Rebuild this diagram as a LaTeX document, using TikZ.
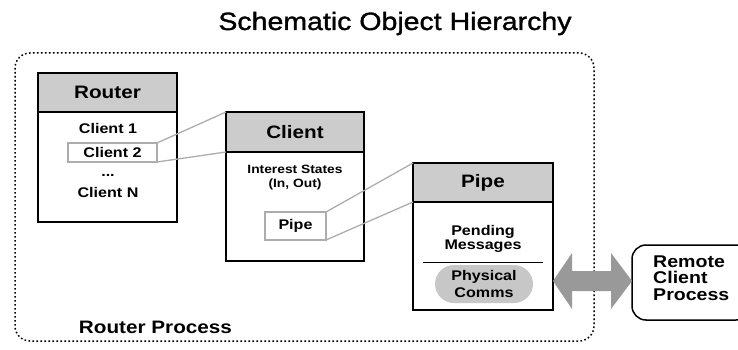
\documentclass[tikz,border=0pt]{standalone}
\usepackage{fontspec}
\setmainfont{Liberation Sans}[FakeStretch=1.15]
\newfontfamily\titlefont{Liberation Sans}[FakeStretch=1.14, FakeBold=1.3]
\definecolor{hdr}{gray}{0.80}
\definecolor{lnk}{gray}{0.68}
\definecolor{pill}{gray}{0.78}
\definecolor{arr}{gray}{0.60}
\begin{document}
\begin{tikzpicture}[x=1pt,y=-1pt,
  box/.style={draw=black, line width=1.8pt, inner sep=0pt, outer sep=0pt},
  hdrbox/.style={box, fill=hdr, font=\bfseries\fontsize{18}{18}\selectfont},
  bodybox/.style={box, fill=white},
  txt/.style={font=\bfseries\fontsize{14}{14}\selectfont, inner sep=0pt, align=center},
  link/.style={draw=lnk, line width=1.3pt},
  subbox/.style={draw=lnk, line width=1.5pt, fill=white, inner sep=0pt, outer sep=0pt,
                 font=\bfseries\fontsize{14}{14}\selectfont}]
\useasboundingbox (0,0) rectangle (738,350);

% title
\node[font=\titlefont\fontsize{25}{25}\selectfont, inner sep=0pt, anchor=base] (title) at (395,30) {Schematic Object Hierarchy};

% router process boundary
\draw[line width=1.5pt, dash pattern=on 1.6pt off 2.4pt, rounded corners=15pt] (15,53) rectangle (594,341);
\node[font=\bfseries\fontsize{18}{18}\selectfont, inner sep=0pt, anchor=base] (rp) at (155.5,333) {Router Process};

% Router object
\node[bodybox, minimum width=139, minimum height=110] (routerB) at (107.5,167) {};
\node[hdrbox, minimum width=139, minimum height=39] (routerH) at (107.5,92.5) {Router};
\node[txt, anchor=base] (c1) at (108,133.5) {Client 1};
\node[subbox, minimum width=89, minimum height=19] (c2) at (112.5,152.5) {Client 2};
\node[txt, anchor=base] (cdots) at (108,176) {...};
\node[txt, anchor=base] (cn) at (108,197) {Client N};

% Client object
\node[bodybox, minimum width=138, minimum height=109] (clientB) at (295,206.5) {};
\node[hdrbox, minimum width=138, minimum height=40] (clientH) at (295,132) {Client};
\node[txt, font=\bfseries\fontsize{12}{13.2}\selectfont] (interest) at (295,177.5) {Interest States\\(In, Out)};
\node[subbox, minimum width=61, minimum height=28] (pipeS) at (295.5,226) {Pipe};

% Pipe object
\node[bodybox, minimum width=140, minimum height=108] (pipeB) at (483,256) {};
\node[hdrbox, minimum width=140, minimum height=39] (pipeH) at (483,182.5) {Pipe};
\node[txt] (pending) at (483,238.5) {Pending\\Messages};
\draw[line width=1pt] (423,262) -- (543,262);
\node[txt, fill=pill, rounded corners=19pt, minimum width=98, minimum height=38,
      font=\bfseries\fontsize{14}{17}\selectfont] (phys) at (484,284) {Physical\\Comms};

% links
\draw[link] (c2.north east) -- (clientH.north west);
\draw[link] (c2.south east) -- (clientH.south west);
\draw[link] (pipeS.north east) -- (pipeH.north west);
\draw[link] (pipeS.south east) -- (pipeH.south west);

% remote process
\node[draw=black, line width=1.5pt, rounded corners=14pt, minimum width=118, minimum height=75,
      inner sep=0pt, outer sep=0pt] (remote) at (691,282.5) {};
\node[font=\bfseries\fontsize{17}{16.3}\selectfont, align=left, inner sep=0pt, anchor=north west] (remoteT) at (653,255.8) {Remote\\Client\\Process};

% double arrow
\coordinate (aL) at (553,281);
\coordinate (aR) at (632,281);
\fill[arr] (aL) -- ++(19,-28) -- ++(0,18) -- ++(39,0) -- ++(0,-18) -- (aR)
  -- ++(-21,28) -- ++(0,-18) -- ++(-39,0) -- ++(0,18) -- cycle;
\end{tikzpicture}
\end{document}
